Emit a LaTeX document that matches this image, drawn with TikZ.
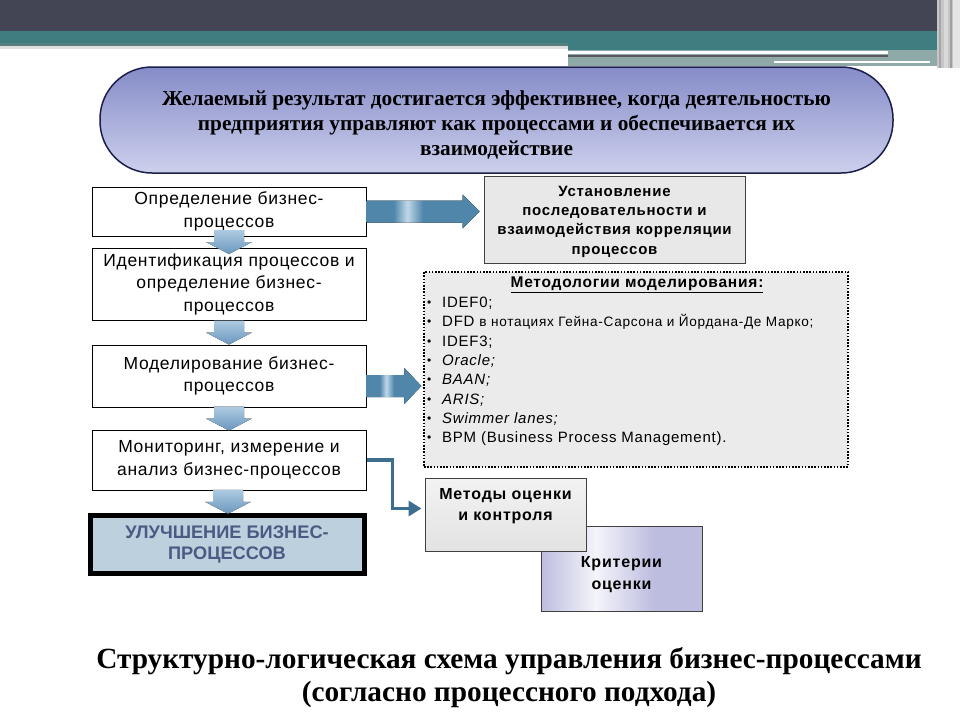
\documentclass[tikz,border=0pt]{standalone}
\usepackage{fontspec}
\setmainfont{Liberation Sans}
\newfontfamily\tnr{Liberation Serif}
\newfontfamily\boxfont[LetterSpace=4]{Liberation Sans}
\newfontfamily\spfont[LetterSpace=5]{Liberation Sans}
\usetikzlibrary{calc,arrows.meta}
\definecolor{darkbar}{HTML}{434554}
\definecolor{tealband}{HTML}{3F7E80}
\definecolor{tealgray}{HTML}{8FA8A8}
\definecolor{bannerrim}{HTML}{1B1F4A}
\definecolor{bantop}{HTML}{858CC8}
\definecolor{banbot}{HTML}{CDD0EC}
\definecolor{ra1}{HTML}{4F86AA}
\definecolor{ra2}{HTML}{C0D8E8}
\definecolor{da1}{HTML}{AECBE2}
\definecolor{da2}{HTML}{6A97BD}
\definecolor{conncol}{HTML}{3D6E8E}
\definecolor{impfill}{HTML}{BDD0DE}
\definecolor{imptext}{HTML}{4B5A82}
\definecolor{ltgray}{HTML}{E8E8E8}
\definecolor{dotfill}{HTML}{EBEBEB}
\definecolor{lav1}{HTML}{BDBDE0}
\definecolor{lav2}{HTML}{F4F4FA}
\pgfdeclarehorizontalshading{rarrshade}{100bp}{color(0bp)=(ra1); color(37bp)=(ra1); color(43bp)=(ra2); color(50bp)=(ra1); color(100bp)=(ra1)}
\pgfdeclarehorizontalshading{lavshade}{100bp}{color(0bp)=(lav1); color(25bp)=(lav1); color(42bp)=(lav2); color(60bp)=(lav1); color(100bp)=(lav1)}
\newcommand{\bul}{\makebox[15pt][l]{\raisebox{1pt}{\fontsize{12}{12}\selectfont•}}}
\tikzset{
  stepbox/.style={draw=black, line width=1pt, fill=white, align=center,
    font=\boxfont\fontsize{17.5}{22.5}\selectfont, minimum width=274, inner sep=0},
  graybox/.style={draw=black!75, line width=1pt, fill=ltgray, align=center,
    font=\spfont\fontsize{15}{19.3}\selectfont\bfseries, inner sep=0},
  rshade/.style={shading=rarrshade},
  darr/.pic={\fill[top color=da1, bottom color=da2] (-15,-12) -- (15,-12) -- (15,0) -- (23,0) -- (0,12) -- (-23,0) -- (-15,0) -- cycle;},
  conn/.style={draw=conncol, line width=3.5pt, -{Triangle[length=13pt,width=15pt]}}
}
\begin{document}
\begin{tikzpicture}[x=1pt,y=-1pt]
\useasboundingbox (0,0) rectangle (960,720);
\fill[white] (0,0) rectangle (960,720);
% top decoration
\fill[darkbar] (0,0) rectangle (960,31);
\fill[tealband] (0,31) rectangle (937,44);
\fill[tealband!60!gray] (0,43) rectangle (568,46);
\fill[gray!25] (0,46) rectangle (568,49);
\fill[tealband] (568,44) rectangle (937,50);
\fill[tealgray] (568,50) rectangle (937,66);
\fill[white] (568,51) rectangle (888,54);
\fill[gray!70!black] (568,55) rectangle (888,57);
\fill[white] (774,61) rectangle (930,63);
\fill[gray!45] (937,0) rectangle (960,68);
\fill[gray!70] (939,0) rectangle (941,68);
\fill[gray!30] (944,0) rectangle (948,68);
\fill[gray!75] (950,0) rectangle (952,68);
\fill[gray!20] (953,0) rectangle (960,68);
% banner
\node[draw=bannerrim, line width=1.5pt, rounded corners=52, top color=bantop, bottom color=banbot,
  minimum width=793, minimum height=106, inner sep=0] (ban) at (496.5,120) {};
\node[align=center, font=\tnr\bfseries\fontsize{21.3}{24.8}\selectfont] (bant) at ($(ban.center)+(0,5)$)
  {Желаемый результат достигается эффективнее, когда деятельностью\\
   предприятия управляют как процессами и обеспечивается их\\
   взаимодействие};
% left chain
\node[stepbox, minimum height=49] (b1) at (229,211.5) {Определение бизнес-\\процессов};
\node[stepbox, minimum height=72] (b2) at (229,284) {Идентификация процессов и\\определение бизнес-\\процессов};
\node[stepbox, minimum height=62] (b3) at (229,376) {Моделирование бизнес-\\процессов};
\node[stepbox, minimum height=60] (b4) at (229,460) {Мониторинг, измерение и\\анализ бизнес-процессов};
\node[draw=black, line width=5pt, fill=impfill, minimum width=274, minimum height=58, inner sep=0,
  align=center, text=imptext, font=\fontsize{18.2}{21}\selectfont\bfseries] (b5) at (227,544.5)
  {УЛУЧШЕНИЕ БИЗНЕС-\\ПРОЦЕССОВ};
% right side boxes
\node[graybox, minimum width=261, minimum height=87] (u1) at (614.5,219.5) {};
\node[graybox, draw=none, fill=none] (u1t) at ($(u1.center)+(0,2)$)
  {Установление\\последовательности и\\взаимодействия корреляции\\процессов};
\node[draw=black, line width=1.3pt, dash pattern=on 1.6pt off 1.6pt, fill=dotfill,
  minimum width=424, minimum height=195, inner sep=0] (m1) at (636,369.5) {};
\node[font=\spfont\fontsize{15.5}{17}\selectfont\bfseries] (m1t) at (637,285) {\underline{Методологии моделирования:}};
\node[anchor=north west, align=left, inner sep=0, font=\spfont\fontsize{15}{19.3}\selectfont] (m1l) at (427,297)
  {\bul IDEF0;\\
   \bul DFD {\fontsize{13.6}{13}\selectfont в нотациях Гейна-Сарсона и Йордана-Де Марко;}\\
   \bul IDEF3;\\
   \bul\textit{Oracle;}\\
   \bul\textit{BAAN;}\\
   \bul\textit{ARIS;}\\
   \bul\textit{Swimmer lanes;}\\
   \bul BPM (Business Process Management).};
\node[draw=black!75, line width=1pt, shading=lavshade, minimum width=161, minimum height=85,
  inner sep=0] (kr) at (621.5,568.5) {};
\node[font=\spfont\fontsize{16}{22}\selectfont\bfseries, align=center] (krt) at ($(kr.center)+(0,6)$)
  {Критерии\\оценки};
\node[draw=black!75, line width=1pt, top color=gray!10, bottom color=gray!22, minimum width=161, minimum height=73,
  inner sep=0] (me) at (505.5,514.5) {};
\node[font=\spfont\fontsize{16}{21}\selectfont\bfseries, align=center, anchor=north] (met) at (me.north)
  [yshift=-7pt] {Методы оценки\\и контроля};
% down arrows
\pic at ($(b1.south)!0.5!(b2.north)$) {darr};
\pic at ($(b2.south)!0.5!(b3.north)$) {darr};
\pic at ($(b3.south)!0.5!(b4.north)$) {darr};
\pic at ($(b4.south)!0.5!(b5.north)$) {darr};
% right block arrows
\fill[rshade] ($(b1.east)+(0,-11)$) -- ($(u1.west |- b1.east)+(-21,-11)$) -- ($(u1.west |- b1.east)+(-21,-17)$)
  -- ($(u1.west |- b1.east)+(-4,0)$) -- ($(u1.west |- b1.east)+(-21,17)$) -- ($(u1.west |- b1.east)+(-21,11)$)
  -- ($(b1.east)+(0,11)$) -- cycle;
\fill[rshade] ($(b3.east)+(0,-1)$) -- ($(m1.west |- b3.east)+(-19,-1)$) -- ($(m1.west |- b3.east)+(-19,-8)$)
  -- ($(m1.west |- b3.east)+(-2,10)$) -- ($(m1.west |- b3.east)+(-19,28)$) -- ($(m1.west |- b3.east)+(-19,21)$)
  -- ($(b3.east)+(0,21)$) -- cycle;
% connector
\draw[conn] (b4.east) -- ++(26,0) |- ($(me.west)+(-3,-6)$);
% caption
\node[font=\tnr\bfseries\fontsize{29.3}{33}\selectfont, align=center] (cap) at (509,678)
  {Структурно-логическая схема управления бизнес-процессами\\(согласно процессного подхода)};
\end{tikzpicture}
\end{document}
